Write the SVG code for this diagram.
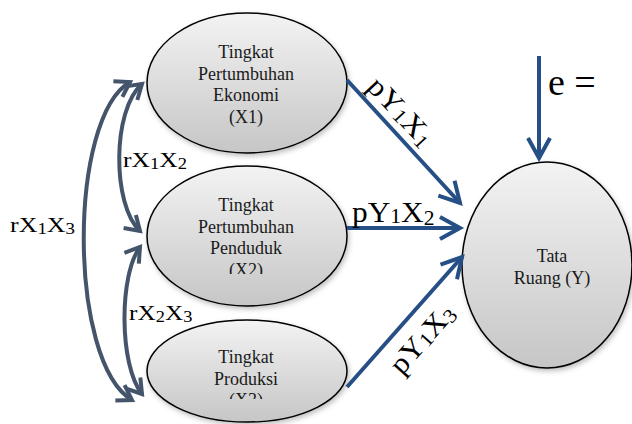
<svg xmlns="http://www.w3.org/2000/svg" width="632" height="424" viewBox="0 0 632 424">
<style>
.node ellipse{fill:url(#g);stroke:#000;stroke-width:1.5;filter:url(#sh)}
.nt{font-family:"Liberation Serif","Times New Roman",serif;font-size:18px;fill:#1a1a1a;text-anchor:middle}
.lbl{font-family:"Liberation Serif","Times New Roman",serif;fill:#000}
.arc{fill:none;stroke:#44546A;stroke-width:4;marker-start:url(#ca);marker-end:url(#ca)}
.arw{fill:none;stroke:#264F86;stroke-width:4;marker-end:url(#sa)}
</style>
<defs>
<linearGradient id="g" x1="0" y1="0" x2="0" y2="1">
<stop offset="0" stop-color="#f3f3f3"/>
<stop offset="1" stop-color="#c6c6c6"/>
</linearGradient>
<filter id="sh" x="-20%" y="-20%" width="140%" height="140%">
<feDropShadow dx="1.5" dy="2.5" stdDeviation="2.5" flood-color="#000" flood-opacity="0.25"/>
</filter>
<marker id="ca" markerUnits="userSpaceOnUse" markerWidth="40" markerHeight="40" refX="0" refY="0" viewBox="-20 -20 40 40" orient="auto-start-reverse" overflow="visible">
<path d="M-14,-9 L0,0 L-14,9" fill="none" stroke="#44546A" stroke-width="4"/>
</marker>
<marker id="sa" markerUnits="userSpaceOnUse" markerWidth="50" markerHeight="50" refX="0" refY="0" viewBox="-25 -25 50 50" orient="auto" overflow="visible">
<path d="M-20,-11 L0,0 L-20,11" fill="none" stroke="#264F86" stroke-width="4"/>
</marker>
<clipPath id="c2"><rect x="140" y="160" width="220" height="114"/></clipPath>
<clipPath id="c3"><rect x="140" y="310" width="220" height="89"/></clipPath>
</defs>

<g id="node-x1" class="node">
<ellipse cx="247" cy="83" rx="100" ry="70"/>
<text class="nt" x="246" y="58">Tingkat</text>
<text class="nt" x="246" y="79.5">Pertumbuhan</text>
<text class="nt" x="246" y="101">Ekonomi</text>
<text class="nt" x="246" y="122.5">(X1)</text>
</g>
<g id="node-x2" class="node">
<ellipse cx="247" cy="236" rx="100" ry="70"/>
<g clip-path="url(#c2)">
<text class="nt" x="246" y="211">Tingkat</text>
<text class="nt" x="246" y="232.5">Pertumbuhan</text>
<text class="nt" x="246" y="254">Penduduk</text>
<text class="nt" x="246" y="276">(X2)</text>
</g>
</g>
<g id="node-x3" class="node">
<ellipse cx="247" cy="371" rx="100" ry="51"/>
<g clip-path="url(#c3)">
<text class="nt" x="246" y="363">Tingkat</text>
<text class="nt" x="246" y="384.5">Produksi</text>
<text class="nt" x="246" y="406">(X3)</text>
</g>
</g>
<g id="node-y" class="node">
<ellipse cx="547" cy="265" rx="85" ry="103"/>
<text class="nt" x="552" y="262">Tata</text>
<text class="nt" x="552" y="284">Ruang (Y)</text>
</g>

<g id="connectors">
<path class="arc" d="M130,82 C68,118 68,362 132,400"/>
<path class="arc" d="M142,84 C112,110 112,205 140,231"/>
<path class="arc" d="M140,247 C119,275 119,365 142,394"/>
<line class="arw" x1="347" y1="80" x2="460" y2="203"/>
<line class="arw" x1="347" y1="228" x2="460" y2="228"/>
<line class="arw" x1="347" y1="387" x2="462" y2="257"/>
<line class="arw" x1="539" y1="56" x2="539" y2="158"/>
</g>

<g id="labels">
<text class="lbl" transform="translate(123,167) scale(1.16,1)" font-size="22">rX<tspan font-size="16" dy="2">1</tspan><tspan dy="-2">X</tspan><tspan font-size="16" dy="2">2</tspan></text>
<text class="lbl" transform="translate(10,232) scale(1.18,1)" font-size="22">rX<tspan font-size="16" dy="2">1</tspan><tspan dy="-2">X</tspan><tspan font-size="16" dy="2">3</tspan></text>
<text class="lbl" transform="translate(129,320) scale(1.15,1)" font-size="22">rX<tspan font-size="16" dy="2">2</tspan><tspan dy="-2">X</tspan><tspan font-size="16" dy="2">3</tspan></text>
<text class="lbl" transform="translate(352,222) scale(1.08,1)" font-size="29">pY<tspan font-size="20" dy="1">1</tspan><tspan dy="-1">X</tspan><tspan font-size="20" dy="3">2</tspan></text>
<text class="lbl" text-anchor="middle" transform="translate(394,118) rotate(47) scale(1.08,1)" font-size="29">pY<tspan font-size="20" dy="1">1</tspan><tspan dy="-1">X</tspan><tspan font-size="20" dy="3">1</tspan></text>
<text class="lbl" text-anchor="middle" transform="translate(429,345) rotate(-48.5) scale(1.08,1)" font-size="29">pY<tspan font-size="20" dy="1">1</tspan><tspan dy="-1">X</tspan><tspan font-size="20" dy="3">3</tspan></text>
<text class="lbl" x="548" y="95" font-size="38">e =</text>
</g>
</svg>
